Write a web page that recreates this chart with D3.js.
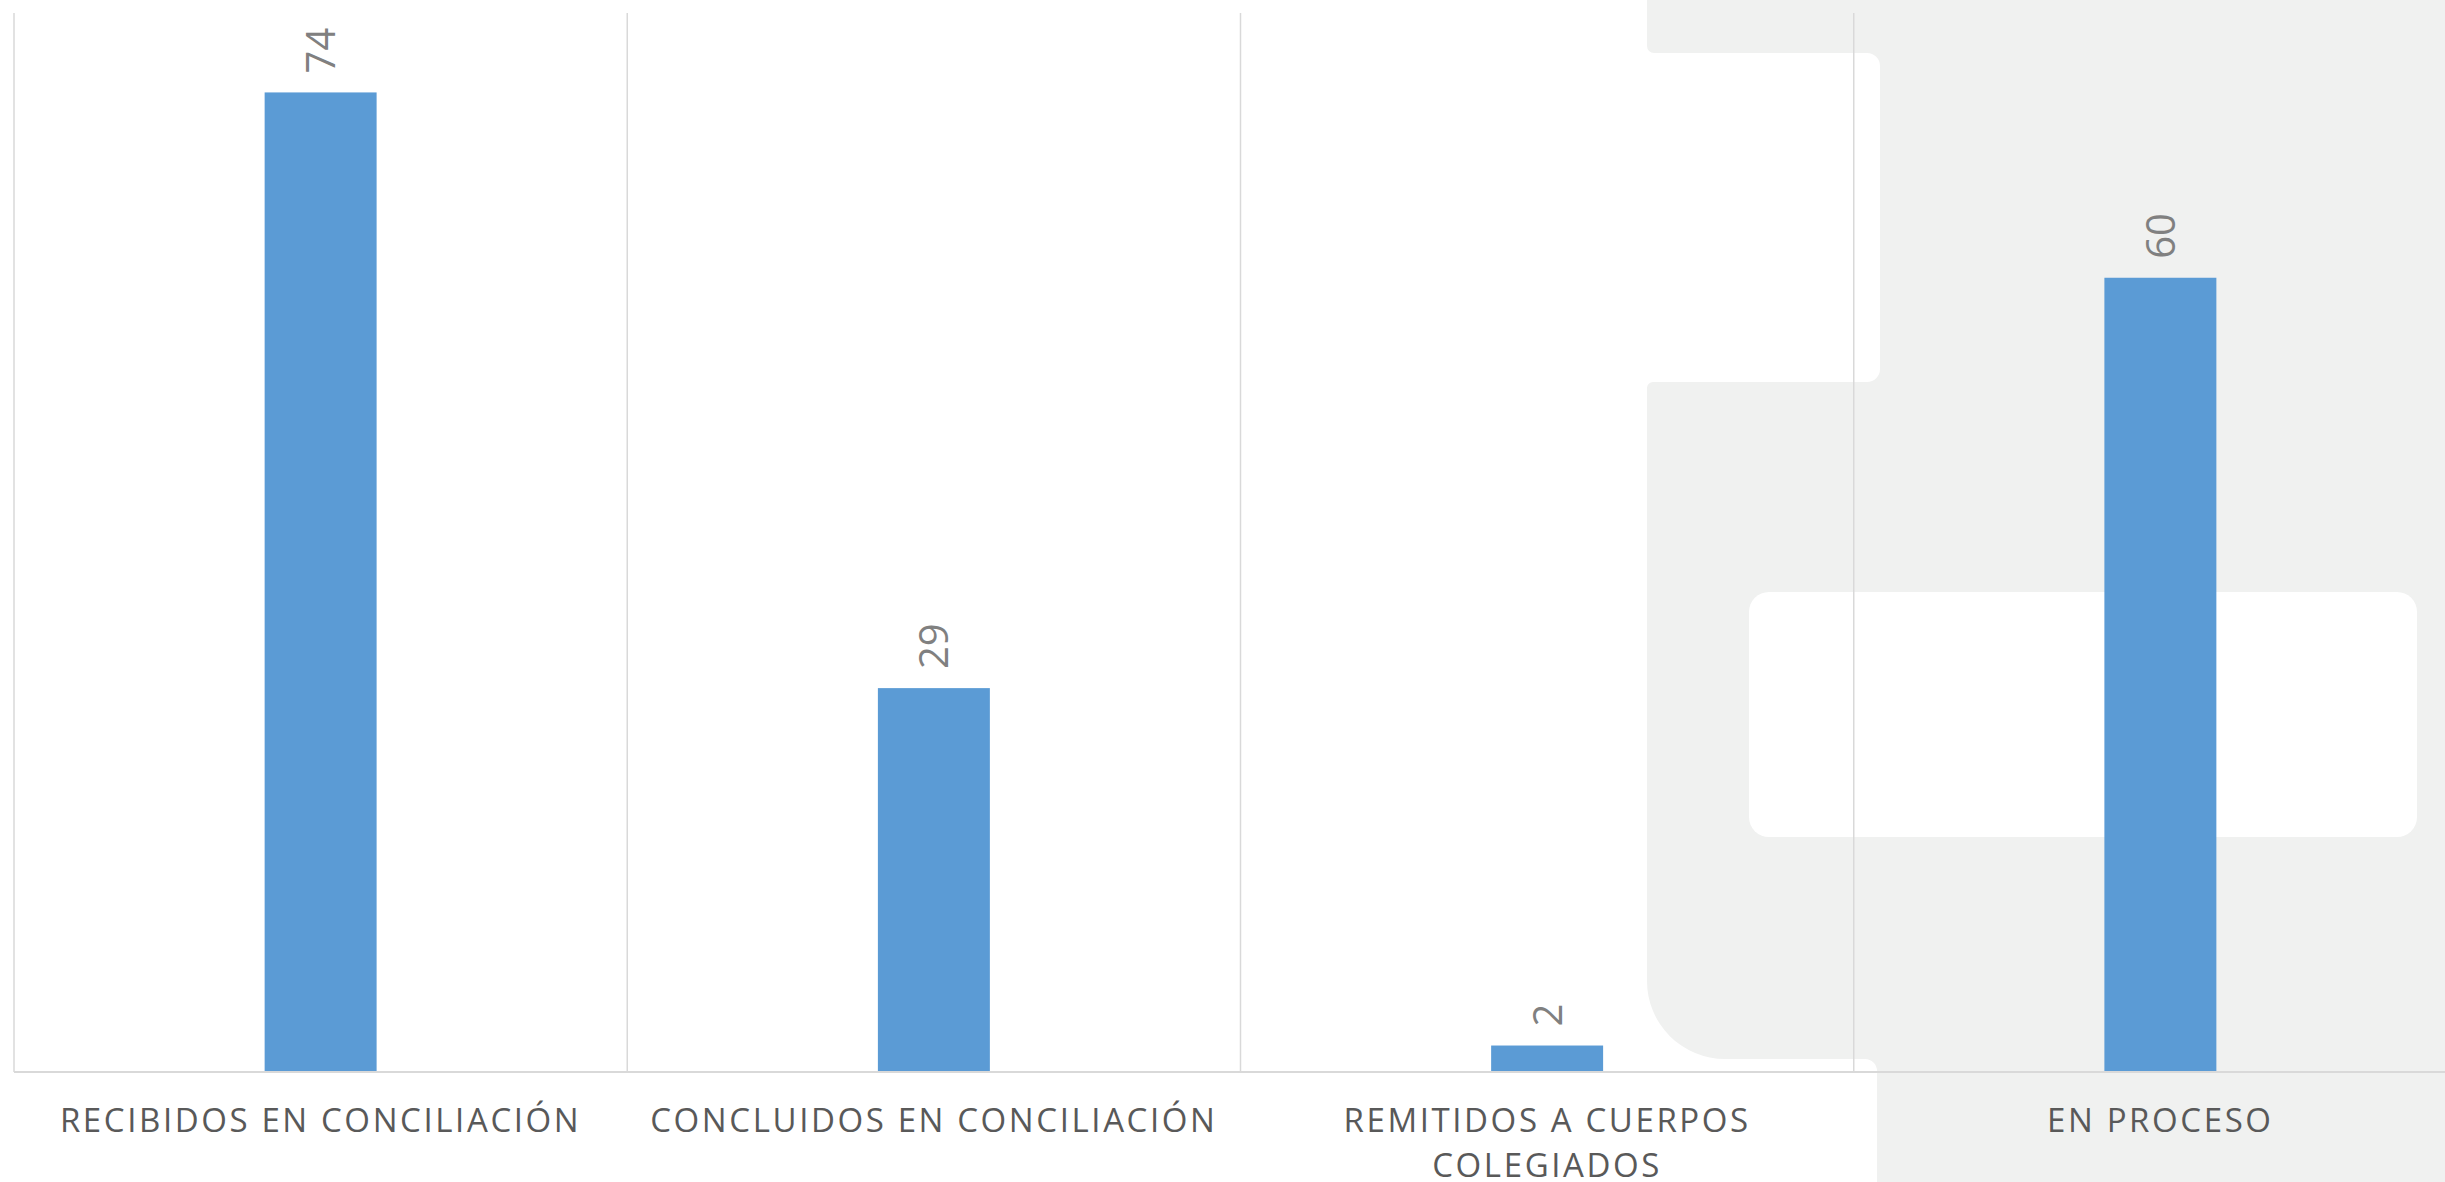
<!DOCTYPE html>
<html>
<head>
<meta charset="utf-8">
<script src="https://cdn.jsdelivr.net/npm/d3@7/dist/d3.min.js"></script>
<style>
  html, body { margin: 0; padding: 0; background: #ffffff; overflow: hidden; }
  svg { display: block; }
</style>
</head>
<body>
<svg id="chart" width="2445" height="1182"></svg>
<script>
// ---- data ----
const categories = [
  "RECIBIDOS EN CONCILIACIÓN",
  "CONCLUIDOS EN CONCILIACIÓN",
  "REMITIDOS A CUERPOS COLEGIADOS",
  "EN PROCESO"
];
const values = [74, 29, 2, 60];
const yDomain = [0, 80];

// ---- layout ----
const W = 2445, H = 1182;
const plotLeft = 14, plotTop = 13, plotBottom = 1072;
const step = 613.25;
const plotRight = plotLeft + step * categories.length;
const gapRatio = 0.8174;

const svg = d3.select("#chart");

// background decoration (slide template shapes)
const deco = svg.append("g");
const grey = "#f0f1f0";
deco.append("rect").attr("x", 1647).attr("y", 0).attr("width", W - 1647).attr("height", H).attr("fill", grey);
// upper white notch (with small rounded grey corners on the left)
deco.append("path")
  .attr("d", "M1647,46 A7,7 0 0 0 1654,53 L1867,53 A13,13 0 0 1 1880,66 L1880,369 A13,13 0 0 1 1867,382 L1653,382 A6,6 0 0 0 1647,388 L1640,388 L1640,46 Z")
  .attr("fill", "#ffffff");
// lower white area with large rounded corner of the grey shape
deco.append("path")
  .attr("d", "M1647,981 A78,78 0 0 0 1725,1059 L1865,1059 A12,12 0 0 1 1877,1071 L1877,1182 L1647,1182 Z")
  .attr("fill", "#ffffff");
// inner white rounded box
deco.append("rect").attr("x", 1749).attr("y", 592).attr("width", 668).attr("height", 245).attr("rx", 20).attr("fill", "#ffffff");

// ---- scales ----
const x = d3.scaleBand()
  .domain(categories)
  .range([plotLeft, plotRight])
  .paddingInner(gapRatio)
  .paddingOuter(gapRatio / 2);

const y = d3.scaleLinear().domain(yDomain).range([plotBottom, plotTop]);

// vertical gridlines at category boundaries
const bounds = categories.map(c => x(c) - x.step() * gapRatio / 2).concat([plotRight]);
svg.append("g").selectAll("line").data(bounds).join("line")
  .attr("x1", d => d).attr("x2", d => d)
  .attr("y1", plotTop).attr("y2", plotBottom)
  .attr("stroke", "#d9d9d9").attr("stroke-width", 1.5);

// bars
svg.append("g").selectAll("rect").data(values).join("rect")
  .attr("x", (d, i) => x(categories[i]))
  .attr("width", x.bandwidth())
  .attr("y", d => y(d))
  .attr("height", d => y(0) - y(d))
  .attr("fill", "#5b9bd5");

// x axis line
svg.append("line")
  .attr("x1", plotLeft).attr("x2", W)
  .attr("y1", plotBottom).attr("y2", plotBottom)
  .attr("stroke", "#d9d9d9").attr("stroke-width", 2);

// data labels (rotated)
svg.append("g").selectAll("text").data(values).join("text")
  .attr("transform", (d, i) => `translate(${x(categories[i]) + x.bandwidth() / 2},${y(d) - 19}) rotate(-90)`)
  .attr("dy", "0.36em")
  .attr("text-anchor", "start")
  .attr("font-family", "'Open Sans', sans-serif")
  .attr("font-size", 40)
  .attr("fill", "#808080")
  .text(d => d);

// category labels with wrapping
const labelG = svg.append("g")
  .attr("font-family", "'Open Sans', sans-serif")
  .attr("font-size", 33)
  .attr("fill", "#595959")
  .attr("letter-spacing", "2.6px");

categories.forEach((c, i) => {
  const cx = x(c) + x.bandwidth() / 2;
  const t = labelG.append("text").attr("text-anchor", "middle").attr("x", cx).attr("y", 1132);
  const words = c.split(" ");
  let line = [];
  let tspan = t.append("tspan").attr("x", cx).attr("dy", 0);
  words.forEach(w => {
    line.push(w);
    tspan.text(line.join(" "));
    if (tspan.node().getComputedTextLength() > 590 && line.length > 1) {
      line.pop();
      tspan.text(line.join(" "));
      line = [w];
      tspan = t.append("tspan").attr("x", cx).attr("dy", 45).text(w);
    }
  });
});
</script>
</body>
</html>
